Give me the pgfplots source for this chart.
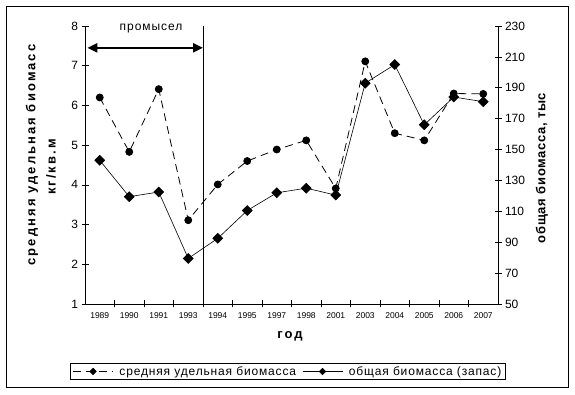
\documentclass[border=0pt]{standalone}
\usepackage{fontspec}
\setmainfont{Liberation Sans}
\usepackage{pgfplots}
\pgfplotsset{compat=1.18}
\usetikzlibrary{arrows.meta}
\begin{document}
\begin{tikzpicture}
\useasboundingbox (0pt,0pt) rectangle (575pt,395pt);
\draw[black, line width=1pt] (6pt,7pt) rectangle (568pt,388pt);
\pgfplotsset{
  common/.style={
    at={(85pt,91pt)}, anchor=south west, width=413pt, height=278pt, scale only axis,
    xmin=-0.5, xmax=13.5, clip=false,
    tick align=center, major tick length=7pt, minor tick length=7pt,
    every tick/.style={black, line width=0.6pt},
    axis line style={black, line width=0.8pt},
    /pgf/number format/assume math mode=true,
  }
}
\begin{axis}[common,
  ymin=1, ymax=8, ytick={1,...,8},
  axis x line*=bottom, axis y line*=left,
  xtick={0,...,13},
  xticklabels={1989,1990,1991,1993,1994,1995,1997,1998,2001,2003,2004,2005,2006,2007},
  major x tick style={draw=none},
  minor xtick={0.5,1.5,...,12.5},
  xticklabel style={font=\fontsize{8.5}{10}\selectfont, yshift=-2pt},
  yticklabel style={font=\fontsize{12}{14}\selectfont},
]
\addplot[black, line width=0.8pt, dash pattern=on 8pt off 5pt, mark=*, mark size=3.5pt, mark options={solid}]
coordinates {(0,6.2) (1,4.83) (2,6.41) (3,3.11) (4,4.01) (5,4.6) (6,4.89) (7,5.12) (8,3.91) (9,7.11) (10,5.3) (11,5.12) (12,6.3) (13,6.29)};
\draw[black, line width=0.7pt] (axis cs:3.5,1) -- (axis cs:3.5,8);
\draw[black, line width=2.4pt, {Triangle[length=10pt,width=9pt]}-{Triangle[length=10pt,width=9pt]}] (axis cs:-0.42,7.45) -- (axis cs:3.5,7.45);
\node[font=\fontsize{12}{14}\selectfont\addfontfeature{LetterSpace=8}] at (axis cs:1.74,7.93) {промысел};
\end{axis}
\begin{axis}[common,
  ymin=50, ymax=230, ytick={50,70,...,230},
  axis x line=none, axis y line*=right,
  yticklabel style={font=\fontsize{12}{14}\selectfont},
  legend columns=2,
  legend style={at={(0.4915,-0.2428)}, anchor=center, draw=black, line width=0.8pt,
    font=\fontsize{12}{14}\selectfont\addfontfeature{LetterSpace=7},
    inner xsep=2pt, inner ysep=1pt, column sep=4pt},
  legend image code/.code={\draw[mark repeat=2, mark phase=2, #1] plot coordinates {(0pt,0pt) (20pt,0pt) (40pt,0pt)};},
]
\addlegendimage{black, line width=0.8pt, dash pattern=on 8pt off 5pt, mark=square*, mark size=2.2pt, mark options={solid, rotate=45}}
\addlegendentry{средняя удельная биомасса}
\addlegendimage{black, line width=0.8pt, mark=square*, mark size=2.2pt, mark options={solid, rotate=45}}
\addlegendentry{общая биомасса (запас)}
\addplot[black, line width=0.6pt, mark=square*, mark size=3.5pt, mark options={solid, rotate=45}, forget plot]
coordinates {(0,143) (1,119.5) (2,122.5) (3,79.5) (4,92.5) (5,110.5) (6,122) (7,125) (8,120.5) (9,193) (10,205) (11,166) (12,184) (13,181)};
\end{axis}
\node[rotate=90, font=\fontsize{13}{15}\selectfont\bfseries\addfontfeature{LetterSpace=16}] at (32pt,240pt) {средняя удельная биомасс};
\node[rotate=90, font=\fontsize{13}{15}\selectfont\bfseries\addfontfeature{LetterSpace=16}] at (51pt,228pt) {кг/кв.м};
\node[rotate=90, font=\fontsize{13}{15}\selectfont\bfseries\addfontfeature{LetterSpace=5}] at (542pt,227pt) {общая биомасса, тыс};
\node[font=\fontsize{13}{15}\selectfont\bfseries\addfontfeature{LetterSpace=16}] at (290pt,59pt) {год};
\end{tikzpicture}
\end{document}
